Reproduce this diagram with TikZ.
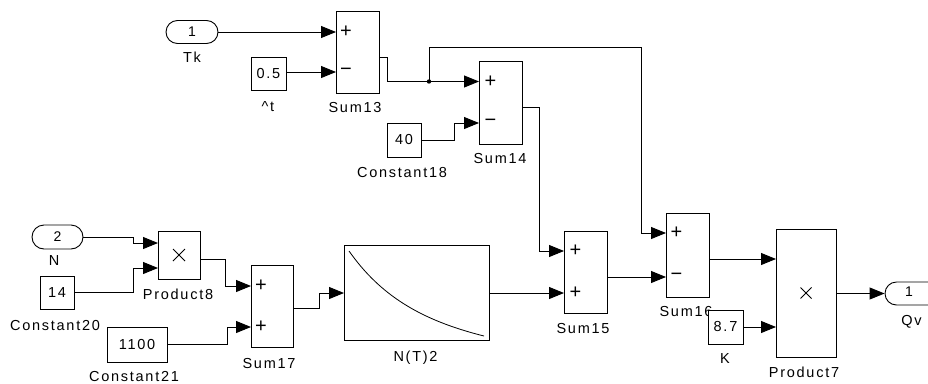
\documentclass[tikz,border=0pt]{standalone}
\usepackage{fontspec}
\setmainfont{Liberation Sans}[LetterSpace=12]
\usetikzlibrary{arrows.meta,shapes.misc}
\begin{document}
\begin{tikzpicture}[x=1pt,y=-1pt,line width=0.9pt,
  every node/.style={inner sep=0pt},
  blk/.style 2 args={draw,fill=white,minimum width=#1,minimum height=#2},
  port/.style 2 args={draw,fill=white,rounded rectangle,minimum width=#1,minimum height=#2,font=\fontsize{14}{15}\selectfont},
  txt/.style={font=\fontsize{14.5}{16}\selectfont},
  lab/.style={font=\fontsize{14.5}{16}\selectfont,anchor=base},
  sgn/.style={font=\fontsize{20}{20}\selectfont},
  wire/.style={draw,-{Triangle[length=15pt,width=12pt]}},
  conn/.style={draw}
]
\clip (0,0) rectangle (928,383);
\fill[white] (0,0) rectangle (928,383);

% ---- blocks ----
\node[port={52pt}{23pt}] (tk) at (192,32) {1};
\node[blk={35pt}{33pt},txt] (c05) at (268.5,73.5) {0.5};
\node[blk={43pt}{82pt}] (s13) at (357.5,52) {};
\node[blk={43pt}{83pt}] (s14) at (500.5,102.5) {};
\node[blk={34pt}{34pt},txt] (c40) at (404,140) {40};
\node[port={51pt}{24pt}] (n) at (57.5,237) {2};
\node[blk={42pt}{48pt}] (p8) at (179,255) {};
\node[blk={34pt}{33pt},txt] (c14) at (57,292.5) {14};
\node[blk={42pt}{82pt}] (s17) at (272,306) {};
\node[blk={60pt}{35pt},txt] (c1100) at (137,344.5) {1100};
\node[blk={145pt}{95pt}] (nt) at (416.5,292.5) {};
\node[blk={43pt}{82pt}] (s15) at (585.5,272) {};
\node[blk={43pt}{84pt}] (s16) at (687.5,255) {};
\node[blk={60pt}{128pt}] (p7) at (806,293) {};
\node[port={64pt}{23pt}, rounded rectangle right arc=none] (qv) at (917,293.5) {};
\node[font=\fontsize{14}{15}\selectfont] (qv1) at (909,292) {1};

% ---- signs ----
\node[sgn] (s13p) at (346,32) {+};
\node[sgn] (s13m) at (346,72) {−};
\node[sgn] (s14p) at (490.5,81.5) {+};
\node[sgn] (s14m) at (490.5,123) {−};
\node[sgn] (s15p) at (575.5,251) {+};
\node[sgn] (s15q) at (575.5,293) {+};
\node[sgn] (s16p) at (676.5,233) {+};
\node[sgn] (s16m) at (676.5,277) {−};
\node[sgn] (s17p) at (261,286) {+};
\node[sgn] (s17q) at (261,327) {+};
\draw[line width=0.8pt] ([shift={(-6,-6)}]p8.center) -- ([shift={(6,6)}]p8.center)
  ([shift={(-6,6)}]p8.center) -- ([shift={(6,-6)}]p8.center);
\draw[line width=0.8pt] ([shift={(-5.5,-5.5)}]p7.center) -- ([shift={(5.5,5.5)}]p7.center)
  ([shift={(-5.5,5.5)}]p7.center) -- ([shift={(5.5,-5.5)}]p7.center);

% curve in N(T)2
\draw[line width=0.8pt] (349,251) .. controls (380,295) and (420,320) .. (484,336);

% ---- labels ----
\node[lab] (ltk) at (192,62.5) {Tk};
\node[lab] (lt) at (268,111) {\^{}t};
\node[lab] (l13) at (355,112.5) {Sum13};
\node[lab] (l18) at (402,177) {Constant18};
\node[lab] (l14) at (500,163) {Sum14};
\node[lab] (ln) at (54,265) {N};
\node[lab] (lp8) at (178,299.5) {Product8};
\node[lab] (l20) at (55,330.5) {Constant20};
\node[lab] (l17) at (269,368) {Sum17};
\node[lab] (l21) at (134,381.5) {Constant21};
\node[lab] (lnt) at (415.5,361.5) {N(T)2};
\node[lab] (l15) at (583,333.5) {Sum15};
\node[lab] (l16) at (686,316) {Sum16};
\node[blk={35pt}{34pt},txt] (ck) at (725.5,327) {8.7};
\node[lab] (lk) at (725,363.5) {K};
\node[lab] (lp7) at (804,377.5) {Product7};
\node[lab] (lqv) at (911.5,325) {Qv};

% ---- port coordinates ----
\coordinate (s13a) at (336,32);
\coordinate (s13b) at (336,72);
\coordinate (s13o) at (379,57);
\coordinate (s14a) at (479,81.5);
\coordinate (s14b) at (479,123);
\coordinate (s14o) at (522,107);
\coordinate (s15a) at (564,251);
\coordinate (s15b) at (564,293);
\coordinate (s15o) at (607,277);
\coordinate (s16a) at (666,233);
\coordinate (s16b) at (666,277);
\coordinate (s16o) at (709,259);
\coordinate (s17a) at (251,286);
\coordinate (s17b) at (251,327);
\coordinate (s17o) at (293,308);
\coordinate (p8a) at (158,243);
\coordinate (p8b) at (158,268);
\coordinate (p8o) at (200,259);
\coordinate (p7a) at (776,259);
\coordinate (p7b) at (776,327);
\coordinate (p7o) at (836,293.5);
\coordinate (nti) at (344,293);
\coordinate (nto) at (489,293);
\coordinate (jn) at (429,81.5);

% ---- wires ----
\draw[wire] (tk.east) -- (s13a);
\draw[wire] (c05.east |- s13b) -- (s13b);
\draw[wire] (s13o) -- (387,57) |- (s14a);
\fill (jn) circle (2.2);
\draw[wire] (jn) |- (641,47) |- (s16a);
\draw[wire] (c40.east) -- (454,140) |- (s14b);
\draw[wire] (s14o) -- (539,107) |- (s15a);
\draw[wire] (n.east) -- (133,237) |- (p8a);
\draw[wire] (c14.east) -- (133,292.5) |- (p8b);
\draw[wire] (p8o) -- (225,259) |- (s17a);
\draw[wire] (c1100.east) -- (227,344.5) |- (s17b);
\draw[wire] (s17o) -- (319,308) |- (nti);
\draw[wire] (nto) -- (s15b);
\draw[wire] (s15o) -- (s16b);
\draw[wire] (s16o) -- (p7a);
\draw[wire] (ck.east) -- (p7b);
\draw[wire] (p7o) -- (qv.west);
\end{tikzpicture}
\end{document}
